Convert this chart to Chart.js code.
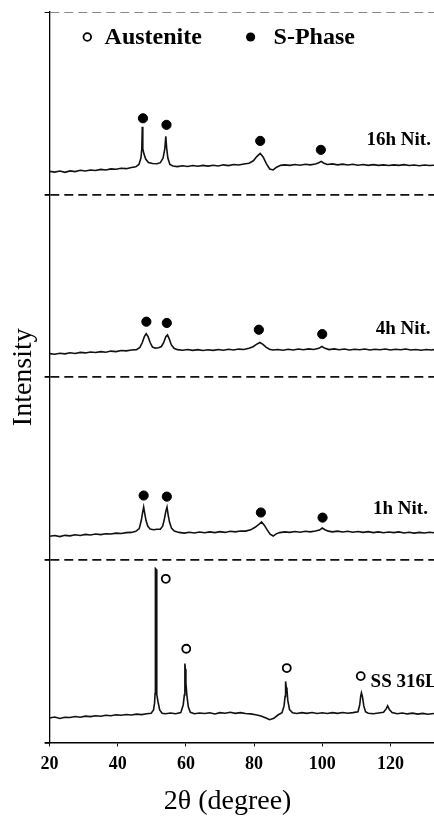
<!DOCTYPE html>
<html>
<head>
<meta charset="utf-8">
<title>XRD patterns</title>
<script src="https://cdn.jsdelivr.net/npm/chart.js@4.4.1/dist/chart.umd.min.js"></script>
<style>
  html, body { margin: 0; padding: 0; background: #fff; }
  #wrap { position: relative; width: 434px; height: 818px; }
</style>
</head>
<body>
<div id="wrap"><canvas id="xrd"></canvas></div>
<script>
// 2theta in degrees, intensity in a.u. (each pattern stacked 1000 above the previous one)
const xTickValues = [20, 40, 60, 80, 100, 120];
const sampleLabels = ['16h Nit.', '4h Nit.', '1h Nit.', 'SS 316L'];

const ssTheta = [20, 21.5, 23, 24.5, 26, 27.5, 29, 30.5, 32, 33.5, 35, 36.5, 38, 39.5, 41, 42.5, 44, 45.5, 47, 48.5,
  49.8, 50.5, 50.8, 50.95, 51.05, 51.3, 51.45, 51.8, 52.3, 53, 54, 55.5, 57, 58.5, 59.2, 59.55, 59.7, 59.85, 60, 60.3,
  60.7, 61.3, 62.5, 64, 65.5, 67, 68.5, 70, 71.5, 73, 74.5, 76, 77.5, 79, 80.5, 82, 83.5, 84.6, 85.8, 87,
  88.2, 88.8, 89.1, 89.25, 89.45, 89.65, 89.9, 90.4, 91.3, 92.5, 94, 95.5, 97, 98.5, 100, 101.5, 103, 104.5, 106, 107.5,
  109, 110.5, 111, 111.3, 111.5, 111.8, 112.2, 112.7, 113.5, 115, 116.5, 118, 118.8, 119.2, 119.7, 120.5, 122, 123.5, 125, 126.5,
  128, 129.5, 131, 132.8];
const ssInt = [134, 139, 131, 138, 136, 142, 138, 144, 141, 146, 143, 149, 146, 151, 149, 153, 150, 155, 152, 157,
  160, 178, 215, 268, 952, 947, 263, 224, 178, 160, 157, 161, 157, 163, 205, 260, 432, 400, 323, 255,
  195, 165, 157, 161, 158, 162, 156, 163, 160, 165, 159, 163, 158, 156, 151, 145, 134, 124, 132, 150,
  162, 200, 252, 334, 300, 290, 230, 180, 162, 158, 163, 159, 164, 158, 162, 158, 163, 159, 164, 160,
  163, 168, 205, 255, 271, 250, 200, 168, 160, 157, 161, 165, 185, 200, 180, 163, 157, 161, 156, 160,
  155, 159, 154, 158];

const n1Theta = [20, 21.5, 23, 24.5, 26, 27.5, 29, 30.5, 32, 33.5, 35, 36.5, 38, 39.5, 41, 42.5, 44, 45.3, 46.3, 46.9,
  47.3, 47.6, 47.9, 48.3, 48.8, 49.5, 50.5, 51.5, 52.5, 53.2, 53.7, 54.1, 54.45, 54.8, 55.2, 55.8, 56.6, 58, 59.5, 61,
  62.5, 64, 65.5, 67, 68.5, 70, 71.5, 73, 74.5, 76, 77.5, 79, 80.3, 81.3, 82.2, 83, 83.8, 84.7, 85.6, 86.5,
  87.5, 89, 90.5, 92, 93.5, 95, 96.5, 98, 99.2, 100, 100.8, 101.8, 103, 104.5, 106, 107.5, 109, 110.5, 112, 113.5,
  115, 116.5, 118, 119.5, 121, 122.5, 124, 125.5, 127, 128.5, 130, 131.5, 132.8];
const n1Int = [1129, 1133, 1127, 1134, 1131, 1137, 1133, 1139, 1136, 1141, 1138, 1143, 1141, 1146, 1144, 1149, 1150, 1156, 1171, 1215,
  1260, 1289, 1255, 1215, 1185, 1168, 1165, 1167, 1168, 1185, 1225, 1265, 1289, 1245, 1205, 1172, 1157, 1150, 1146, 1151,
  1147, 1152, 1148, 1153, 1149, 1154, 1150, 1156, 1153, 1158, 1157, 1164, 1178, 1192, 1207, 1190, 1165, 1140, 1130, 1142,
  1149, 1153, 1150, 1155, 1151, 1156, 1153, 1158, 1163, 1174, 1165, 1157, 1153, 1157, 1152, 1156, 1151, 1155, 1150, 1154,
  1149, 1153, 1148, 1152, 1149, 1153, 1147, 1151, 1146, 1150, 1147, 1151, 1148];

const n4Theta = [20, 21.5, 23, 24.5, 26, 27.5, 29, 30.5, 32, 33.5, 35, 36.5, 38, 39.5, 41, 42.5, 44, 45.5, 46.5, 47.2,
  47.8, 48.35, 48.9, 49.5, 50.2, 51, 52, 52.8, 53.5, 54.1, 54.6, 55.1, 55.7, 56.5, 57.5, 59, 60.5, 62, 63.5, 65,
  66.5, 68, 69.5, 71, 72.5, 74, 75.5, 77, 78.5, 79.7, 80.7, 81.7, 82.6, 83.5, 84.5, 85.5, 87, 88.5, 90, 91.5,
  93, 94.5, 96, 97.5, 99, 99.9, 100.8, 102, 103.5, 105, 106.5, 108, 109.5, 111, 112.5, 114, 115.5, 117, 118.5, 120,
  121.5, 123, 124.5, 126, 127.5, 129, 130.5, 132, 132.8];
const n4Int = [2129, 2126, 2131, 2128, 2134, 2130, 2136, 2133, 2138, 2135, 2140, 2137, 2143, 2140, 2146, 2144, 2149, 2151, 2163, 2190,
  2222, 2238, 2222, 2190, 2165, 2159, 2161, 2168, 2190, 2222, 2232, 2210, 2178, 2158, 2151, 2148, 2152, 2147, 2151, 2146,
  2150, 2147, 2152, 2148, 2153, 2149, 2154, 2152, 2158, 2167, 2180, 2190, 2180, 2165, 2153, 2149, 2152, 2148, 2153, 2149,
  2154, 2150, 2155, 2152, 2158, 2168, 2158, 2151, 2155, 2150, 2154, 2149, 2153, 2150, 2154, 2149, 2153, 2150, 2154, 2149,
  2153, 2150, 2154, 2149, 2152, 2148, 2152, 2149, 2151];

const n16Theta = [20, 21.5, 23, 24.5, 26, 27.5, 29, 30.5, 32, 33.5, 35, 36.5, 38, 39.5, 41, 42.5, 44, 45.3, 46.2, 46.8,
  47.05, 47.2, 47.35, 47.7, 48.2, 49, 50.2, 51.5, 52.5, 53.3, 53.8, 54.1, 54.35, 54.7, 55.3, 56.2, 57.5, 59, 60.5, 62,
  63.5, 65, 66.5, 68, 69.5, 71, 72.5, 74, 75.5, 77, 78.5, 79.8, 80.8, 81.8, 82.7, 83.6, 84.6, 85.6, 86.6, 87.8,
  89, 90.5, 92, 93.5, 95, 96.5, 98, 99, 99.7, 100.5, 101.5, 103, 104.5, 106, 107.5, 109, 110.5, 112, 113.5, 115,
  116.5, 118, 119.5, 121, 122.5, 124, 125.5, 127, 128.5, 130, 131.5, 132.8];
const n16Int = [3127, 3123, 3129, 3122, 3130, 3126, 3133, 3129, 3135, 3132, 3138, 3135, 3141, 3139, 3144, 3142, 3148, 3152, 3165, 3200,
  3250, 3371, 3250, 3222, 3195, 3176, 3170, 3169, 3175, 3200, 3250, 3319, 3255, 3200, 3165, 3157, 3153, 3158, 3154, 3159,
  3155, 3160, 3156, 3161, 3157, 3163, 3159, 3165, 3162, 3168, 3172, 3185, 3208, 3226, 3205, 3170, 3140, 3135, 3150, 3160,
  3163, 3160, 3165, 3161, 3166, 3163, 3168, 3175, 3182, 3172, 3165, 3168, 3163, 3167, 3162, 3166, 3161, 3165, 3160, 3164,
  3160, 3163, 3159, 3163, 3160, 3164, 3159, 3162, 3158, 3162, 3159, 3161];

// peak markers
const austeniteTheta = [54.1, 60.1, 89.6, 111.3];
const austeniteInt = [896, 513, 407, 363];
const sPhase1Theta = [47.6, 54.4, 82.0, 100.1];
const sPhase1Int = [1352, 1346, 1259, 1231];
const sPhase4Theta = [48.4, 54.4, 81.4, 100.0];
const sPhase4Int = [2304, 2297, 2260, 2236];
const sPhase16Theta = [47.4, 54.3, 81.8, 99.6];
const sPhase16Int = [3418, 3382, 3294, 3245];

const serif = "'Liberation Serif', 'Times New Roman', serif";
const toXY = (xs, ys) => xs.map((x, i) => ({ x, y: ys[i] }));

function traceSet(xs, ys) {
    return { type: 'line', data: toXY(xs, ys), borderColor: '#111', borderWidth: 1.6,
             pointRadius: 0, tension: 0, fill: false };
}
function markerSet(xs, ys, open) {
    return { type: 'scatter', data: toXY(xs, ys), pointStyle: 'circle',
             pointRadius: open ? 4 : 4.6,
             pointBackgroundColor: open ? '#fff' : '#000',
             pointBorderColor: '#000', pointBorderWidth: open ? 1.8 : 1 };
}

// sample names, legend and x title drawn on the canvas
const textPlugin = {
    id: 'xrdText',
    afterDraw(chart) {
        const { ctx, chartArea: a, scales: { x, y } } = chart;
        ctx.save();
        ctx.fillStyle = '#000';
        ctx.textBaseline = 'alphabetic';
        ctx.textAlign = 'left';
        // sample labels: [theta, intensity] of the text's left baseline
        const anchors = [[113.0, 3272], [115.7, 2238], [114.9, 1253], [114.2, 301]];
        ctx.font = 'bold 19px ' + serif;
        sampleLabels.forEach((t, i) => {
            ctx.fillText(t, x.getPixelForValue(anchors[i][0]), y.getPixelForValue(anchors[i][1]));
        });
        // legend
        ctx.font = 'bold 24px ' + serif;
        ctx.fillText('Austenite', a.left + 55, a.top + 32);
        ctx.fillText('S-Phase', a.left + 224, a.top + 32);
        ctx.lineWidth = 1.8;
        ctx.strokeStyle = '#000';
        ctx.beginPath();
        ctx.arc(a.left + 37.7, a.top + 25, 3.8, 0, Math.PI * 2);
        ctx.stroke();
        ctx.beginPath();
        ctx.arc(a.left + 201, a.top + 25, 4.6, 0, Math.PI * 2);
        ctx.fill();
        // x axis title
        ctx.font = '28px ' + serif;
        ctx.textAlign = 'center';
        ctx.fillText('2\u03b8 (degree)', a.left + 178, chart.height - 9);
        ctx.restore();
    }
};

new Chart(document.getElementById('xrd'), {
    data: {
        datasets: [
            traceSet(ssTheta, ssInt),
            traceSet(n1Theta, n1Int),
            traceSet(n4Theta, n4Int),
            traceSet(n16Theta, n16Int),
            markerSet(austeniteTheta, austeniteInt, true),
            markerSet(sPhase1Theta, sPhase1Int, false),
            markerSet(sPhase4Theta, sPhase4Int, false),
            markerSet(sPhase16Theta, sPhase16Int, false)
        ]
    },
    options: {
        responsive: true,
        maintainAspectRatio: false,
        animation: false,
        layout: { autoPadding: false, padding: { top: 12, right: 0, left: 0, bottom: 36 } },
        plugins: { legend: { display: false }, tooltip: { enabled: false } },
        scales: {
            x: {
                type: 'linear',
                min: 20,
                max: 132.8,
                afterBuildTicks: s => { s.ticks = xTickValues.map(v => ({ value: v })); },
                ticks: { color: '#000', font: { family: serif, size: 18, weight: 'bold' },
                         maxRotation: 0, padding: 7 },
                grid: { drawOnChartArea: false, drawTicks: true, tickLength: 4, tickColor: '#000' },
                border: { color: '#000', width: 1.5 }
            },
            y: {
                type: 'linear',
                min: 0,
                max: 4000,
                ticks: { display: false, stepSize: 1000 },
                grid: {
                    drawOnChartArea: true,
                    tickLength: 5,
                    tickColor: '#000',
                    color: c => c.index === 0 ? 'rgba(0,0,0,0)' : (c.index === 4 ? '#888' : '#111'),
                    lineWidth: c => c.index === 4 ? 1 : 1.8
                },
                border: { color: '#000', width: 1.3, dash: [9, 5] },
                title: { display: true, text: 'Intensity', color: '#000',
                         font: { family: serif, size: 28 }, padding: { top: 7, bottom: 4 } }
            }
        }
    },
    plugins: [textPlugin]
});
</script>
</body>
</html>
